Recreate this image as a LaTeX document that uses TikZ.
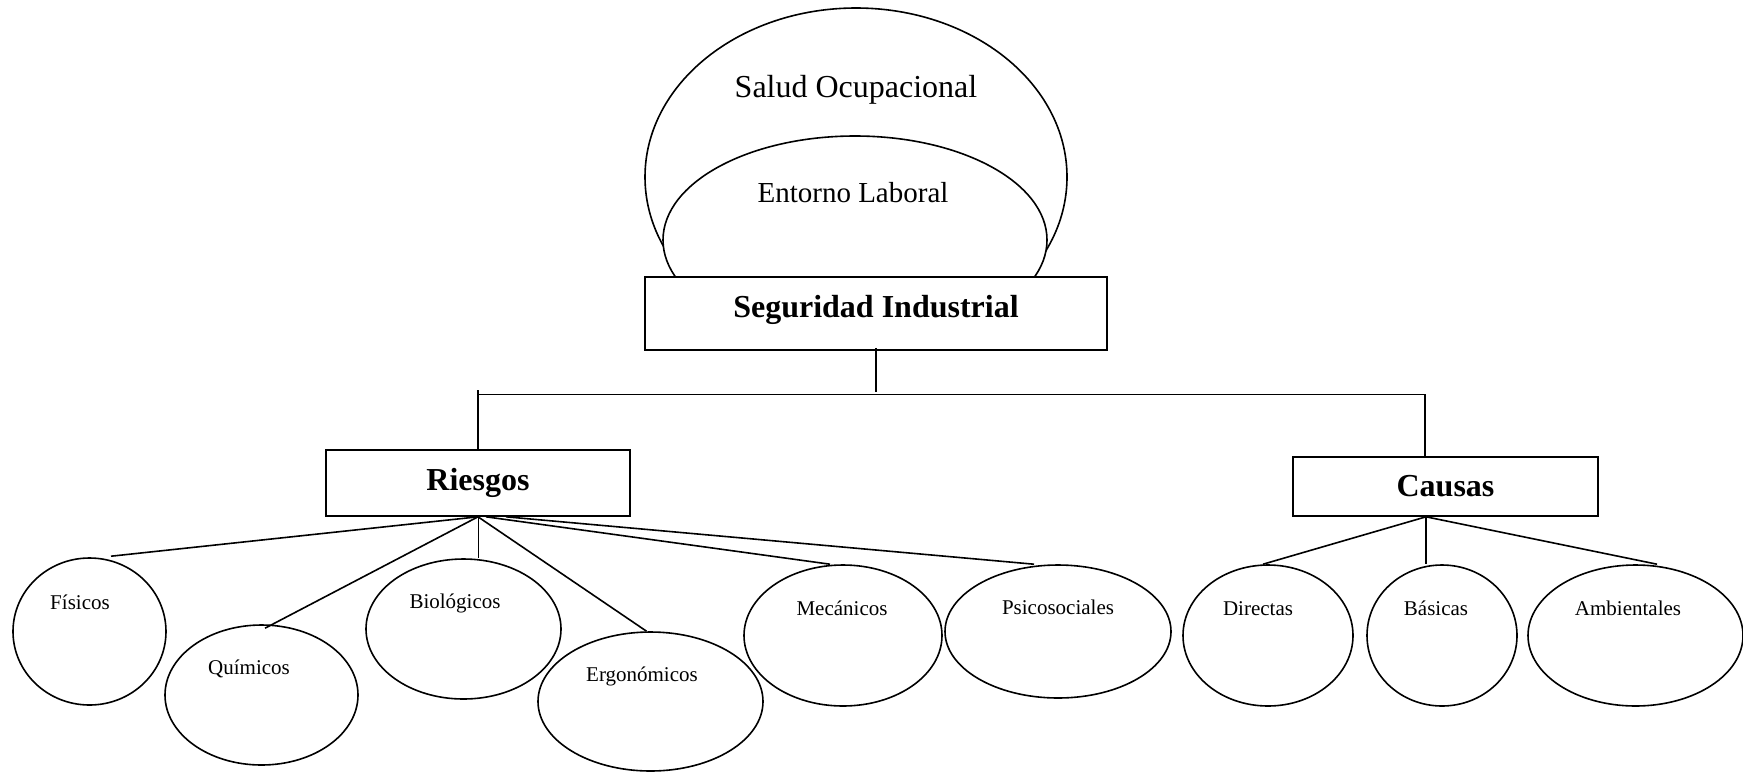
\documentclass[tikz,border=0pt]{standalone}
\usepackage{fontspec}
\setmainfont{Liberation Serif}
\usetikzlibrary{shapes.geometric}
\begin{document}
\begin{tikzpicture}[x=1pt,y=-1pt,line width=1.6pt,
  bigtext/.style={font=\fontsize{32}{38}\selectfont},
  midtext/.style={font=\fontsize{29}{35}\selectfont},
  boxtitle/.style={draw,fill=white,inner sep=0pt,font=\fontsize{32}{38}\selectfont\bfseries},
  bubble/.style={draw,ellipse,fill=white,inner sep=0pt},
  smalltext/.style={anchor=base,inner sep=0pt,font=\fontsize{21}{25}\selectfont}]
\useasboundingbox (0,0) rectangle (1743,772);

% top: nested ellipses resting on the main box
\node[bubble,minimum width=422pt,minimum height=338pt] (salud) at (856,177) {};
\node[bubble,minimum width=384pt,minimum height=208pt] (ent) at (855,240) {};
\node[anchor=base,inner sep=0pt,bigtext] (saludT) at (856,97) {Salud Ocupacional};
\node[anchor=base,inner sep=0pt,midtext] (entT) at (853,202) {Entorno Laboral};
\node[boxtitle,minimum width=462pt,minimum height=73pt,text height=22pt,text depth=15pt] (seg) at (876,313.5) {Seguridad Industrial};

% second level boxes
\node[boxtitle,minimum width=304pt,minimum height=66pt] (rie) at (478,483) {Riesgos};
\node[boxtitle,minimum width=305pt,minimum height=59pt] (cau) at (1445.5,486.5) {Causas};

% bus between the levels
\coordinate (busL) at (478,390);
\coordinate (busA) at (478,394.5);
\coordinate (busB) at (1425,394.5);
\draw ([yshift=3pt]seg.south) -- ([yshift=3pt]seg.south |- busA);
\draw (busL) -- (rie.north);
\draw (busA) -- (busB) -- ([xshift=-20.5pt]cau.north);

% risk bubbles
\node[bubble,minimum width=153pt,minimum height=147pt] (fis) at (89.5,631.5) {};
\node[bubble,minimum width=193pt,minimum height=140pt] (qui) at (261.5,695) {};
\node[bubble,minimum width=195pt,minimum height=140pt] (bio) at (463.5,629) {};
\node[bubble,minimum width=225pt,minimum height=139pt] (erg) at (650.5,701.5) {};
\node[bubble,minimum width=198pt,minimum height=141pt] (mec) at (843,635.5) {};
\node[bubble,minimum width=226pt,minimum height=133pt] (psi) at (1058,631.5) {};

% cause bubbles
\node[bubble,minimum width=170pt,minimum height=141pt] (dir) at (1268,635.5) {};
\node[bubble,minimum width=150pt,minimum height=141pt] (bas) at (1442,635.5) {};
\node[bubble,minimum width=215pt,minimum height=141pt] (amb) at (1635.5,635.5) {};

% bubble labels
\node[smalltext] (fisT) at (80,609) {Físicos};
\node[smalltext] (quiT) at (249,674) {Químicos};
\node[smalltext] (bioT) at (455,608) {Biológicos};
\node[smalltext] (ergT) at (642,681) {Ergonómicos};
\node[smalltext] (mecT) at (842,615) {Mecánicos};
\node[smalltext] (psiT) at (1058,614) {Psicosociales};
\node[smalltext] (dirT) at (1258,615) {Directas};
\node[smalltext] (basT) at (1436,615) {Básicas};
\node[smalltext] (ambT) at (1628,615) {Ambientales};

% connectors from Riesgos
\draw (rie.south) -- ([xshift=21.5pt,yshift=1pt]fis.north);
\draw (rie.south) -- ([xshift=3.5pt,yshift=-4pt]qui.north);
\draw ([xshift=0.5pt]rie.south) -- ([xshift=15pt]bio.north);
\draw (rie.south) -- ([xshift=-4pt]erg.north);
\draw ([xshift=8pt]rie.south) -- ([xshift=-13pt]mec.north);
\draw ([xshift=28pt]rie.south) -- ([xshift=-24pt]psi.north);

% connectors from Causas
\draw ([xshift=-19.5pt]cau.south) -- ([xshift=-5pt]dir.north);
\draw ([xshift=-19.5pt]cau.south) -- ([xshift=-16pt]bas.north);
\draw ([xshift=-19.5pt]cau.south) -- ([xshift=21.5pt]amb.north);
\end{tikzpicture}
\end{document}
